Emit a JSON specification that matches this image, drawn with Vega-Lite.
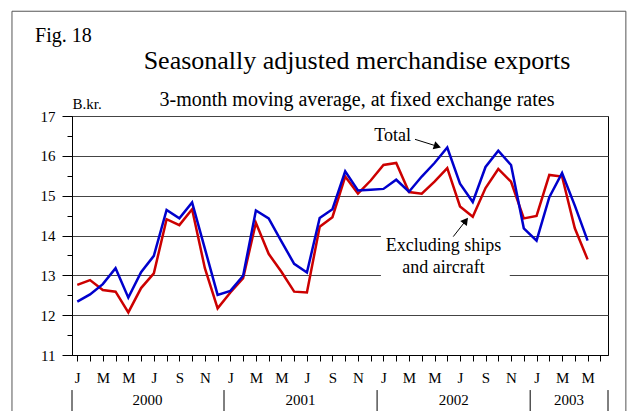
{
  "$schema": "https://vega.github.io/schema/vega-lite/v6.json",
  "width": 536,
  "height": 239,
  "autosize": {"type": "none"},
  "padding": {"left": 72, "top": 116, "right": 29, "bottom": 56},
  "background": "white",
  "config": {
    "font": "Liberation Serif",
    "view": {"stroke": "black", "strokeWidth": 1},
    "axis": {"labelColor": "black", "titleColor": "black", "domainColor": "black", "tickColor": "black", "labelFont": "Liberation Serif", "titleFont": "Liberation Serif"}
  },
  "title": {
    "text": "Seasonally adjusted merchandise exports",
    "subtitle": "3-month moving average, at fixed exchange rates",
    "fontSize": 26,
    "fontWeight": "normal",
    "color": "black",
    "subtitleFontSize": 20,
    "subtitleColor": "black",
    "subtitleFont": "Liberation Serif",
    "anchor": "middle",
    "dx": 17,
    "dy": 103,
    "offset": 4,
    "subtitlePadding": 16
  },
  "data": {
    "values": [
      {"month": "2000-01", "m": 0, "total": 12.34, "excl": 12.76},
      {"month": "2000-02", "m": 1, "total": 12.52, "excl": 12.88},
      {"month": "2000-03", "m": 2, "total": 12.78, "excl": 12.63},
      {"month": "2000-04", "m": 3, "total": 13.18, "excl": 12.59},
      {"month": "2000-05", "m": 4, "total": 12.44, "excl": 12.07},
      {"month": "2000-06", "m": 5, "total": 13.08, "excl": 12.68},
      {"month": "2000-07", "m": 6, "total": 13.49, "excl": 13.05},
      {"month": "2000-08", "m": 7, "total": 14.64, "excl": 14.41},
      {"month": "2000-09", "m": 8, "total": 14.43, "excl": 14.26},
      {"month": "2000-10", "m": 9, "total": 14.83, "excl": 14.66},
      {"month": "2000-11", "m": 10, "total": 13.67, "excl": 13.18},
      {"month": "2000-12", "m": 11, "total": 12.51, "excl": 12.17},
      {"month": "2001-01", "m": 12, "total": 12.61, "excl": 12.57},
      {"month": "2001-02", "m": 13, "total": 12.99, "excl": 12.93},
      {"month": "2001-03", "m": 14, "total": 14.63, "excl": 14.32},
      {"month": "2001-04", "m": 15, "total": 14.43, "excl": 13.54},
      {"month": "2001-05", "m": 16, "total": 13.85, "excl": 13.09},
      {"month": "2001-06", "m": 17, "total": 13.29, "excl": 12.59},
      {"month": "2001-07", "m": 18, "total": 13.07, "excl": 12.57},
      {"month": "2001-08", "m": 19, "total": 14.44, "excl": 14.22},
      {"month": "2001-09", "m": 20, "total": 14.66, "excl": 14.46},
      {"month": "2001-10", "m": 21, "total": 15.61, "excl": 15.48},
      {"month": "2001-11", "m": 22, "total": 15.13, "excl": 15.05},
      {"month": "2001-12", "m": 23, "total": 15.15, "excl": 15.38},
      {"month": "2002-01", "m": 24, "total": 15.17, "excl": 15.77},
      {"month": "2002-02", "m": 25, "total": 15.40, "excl": 15.82},
      {"month": "2002-03", "m": 26, "total": 15.10, "excl": 15.09},
      {"month": "2002-04", "m": 27, "total": 15.48, "excl": 15.05},
      {"month": "2002-05", "m": 28, "total": 15.82, "excl": 15.35},
      {"month": "2002-06", "m": 29, "total": 16.21, "excl": 15.69},
      {"month": "2002-07", "m": 30, "total": 15.30, "excl": 14.73},
      {"month": "2002-08", "m": 31, "total": 14.84, "excl": 14.47},
      {"month": "2002-09", "m": 32, "total": 15.72, "excl": 15.19},
      {"month": "2002-10", "m": 33, "total": 16.13, "excl": 15.67},
      {"month": "2002-11", "m": 34, "total": 15.77, "excl": 15.35},
      {"month": "2002-12", "m": 35, "total": 14.18, "excl": 14.43},
      {"month": "2003-01", "m": 36, "total": 13.87, "excl": 14.49},
      {"month": "2003-02", "m": 37, "total": 14.96, "excl": 15.52},
      {"month": "2003-03", "m": 38, "total": 15.57, "excl": 15.48},
      {"month": "2003-04", "m": 39, "total": 14.75, "excl": 14.18},
      {"month": "2003-05", "m": 40, "total": 13.87, "excl": 13.40}
    ]
  },
  "resolve": {"scale": {"x": "shared", "y": "shared"}, "axis": {"x": "independent", "y": "independent"}},
  "layer": [
    {
      "data": {"values": [{}]},
      "mark": {"type": "rect", "filled": false, "stroke": "#555555", "strokeWidth": 1, "clip": false},
      "encoding": {
        "x": {"datum": -5.12, "type": "quantitative", "axis": null, "scale": {"domain": [-0.415, 41.6], "nice": false, "zero": false}},
        "x2": {"datum": 43.0},
        "y": {"datum": 19.63, "type": "quantitative", "axis": null, "scale": {"domain": [11, 17], "nice": false, "zero": false}},
        "y2": {"datum": 9.0}
      }
    },
    {
      "data": {"values": [{}]},
      "mark": {"type": "rect", "fill": "white", "stroke": null},
      "encoding": {
        "x": {"datum": 23.8, "type": "quantitative", "axis": null},
        "x2": {"datum": 33.9},
        "y": {"datum": 14.19, "type": "quantitative", "axis": null},
        "y2": {"datum": 12.83}
      }
    },
    {
      "mark": {"type": "line", "color": "#cc0000", "strokeWidth": 2.5},
      "encoding": {
        "x": {
          "field": "m", "type": "quantitative",
          "axis": {
            "title": null, "grid": false, "orient": "bottom",
            "values": [0,1,2,3,4,5,6,7,8,9,10,11,12,13,14,15,16,17,18,19,20,21,22,23,24,25,26,27,28,29,30,31,32,33,34,35,36,37,38,39,40,41],
            "labelExpr": "datum.value % 2 == 0 && datum.value <= 40 ? ['J','F','M','A','M','J','J','A','S','O','N','D'][datum.value % 12] : ''",
            "tickSize": 6, "labelFontSize": 15, "labelBaseline": "alphabetic", "labelPadding": 21,
            "labelFlush": false, "labelOverlap": false, "labelBound": false
          }
        },
        "y": {
          "field": "excl", "type": "quantitative",
          "axis": {
            "orient": "left",
            "title": "B.kr.", "titleAngle": 0, "titleAlign": "left", "titleBaseline": "alphabetic",
            "titleX": 0, "titleY": -8, "titleFontSize": 15, "titleFontWeight": "normal",
            "values": [11, 12, 13, 14, 15, 16, 17],
            "labelFontSize": 15, "labelPadding": 7,
            "tickSize": 10,
            "grid": true,
            "gridColor": "#444444",
            "labelOverlap": false
          }
        }
      }
    },
    {
      "mark": {"type": "line", "color": "#0000cc", "strokeWidth": 2.5},
      "encoding": {
        "x": {"field": "m", "type": "quantitative", "axis": null},
        "y": {"field": "total", "type": "quantitative", "axis": null}
      }
    },
    {
      "data": {"values": [{}]},
      "mark": {"type": "text", "text": "Total", "fontSize": 18, "align": "right", "baseline": "alphabetic", "color": "black"},
      "encoding": {
        "x": {"datum": 26.15, "type": "quantitative", "axis": null},
        "y": {"datum": 16.364, "type": "quantitative", "axis": null}
      }
    },
    {
      "data": {"values": [{}]},
      "mark": {"type": "text", "text": ["Excluding ships", "and aircraft"], "lineHeight": 22, "fontSize": 18, "align": "center", "baseline": "alphabetic", "color": "black"},
      "encoding": {
        "x": {"datum": 28.71, "type": "quantitative", "axis": null},
        "y": {"datum": 13.613, "type": "quantitative", "axis": null}
      }
    },
    {
      "data": {"values": [{}]},
      "mark": {"type": "rule", "color": "black", "strokeWidth": 1},
      "encoding": {
        "x": {"datum": 26.47, "type": "quantitative", "axis": null},
        "x2": {"datum": 28.23},
        "y": {"datum": 16.415, "type": "quantitative", "axis": null},
        "y2": {"datum": 16.239}
      }
    },
    {
      "data": {"values": [{}]},
      "mark": {"type": "point", "shape": "triangle-right", "filled": true, "color": "black", "size": 70, "angle": 18, "opacity": 1},
      "encoding": {
        "x": {"datum": 28.23, "type": "quantitative", "axis": null},
        "y": {"datum": 16.239, "type": "quantitative", "axis": null}
      }
    },
    {
      "data": {"values": [{}]},
      "mark": {"type": "rule", "color": "black", "strokeWidth": 1},
      "encoding": {
        "x": {"datum": 29.47, "type": "quantitative", "axis": null},
        "x2": {"datum": 30.45},
        "y": {"datum": 13.972, "type": "quantitative", "axis": null},
        "y2": {"datum": 14.372}
      }
    },
    {
      "data": {"values": [{}]},
      "mark": {"type": "point", "shape": "triangle-right", "filled": true, "color": "black", "size": 70, "angle": -52, "opacity": 1},
      "encoding": {
        "x": {"datum": 30.45, "type": "quantitative", "axis": null},
        "y": {"datum": 14.372, "type": "quantitative", "axis": null}
      }
    },
    {
      "data": {"values": [{}]},
      "mark": {"type": "text", "text": "Fig. 18", "fontSize": 20, "align": "left", "baseline": "alphabetic", "color": "black"},
      "encoding": {
        "x": {"datum": -3.315, "type": "quantitative", "axis": null},
        "y": {"datum": 18.864, "type": "quantitative", "axis": null}
      }
    },
    {
      "data": {"values": [{}]},
      "mark": {"type": "rule", "color": "black", "strokeWidth": 1, "clip": false},
      "encoding": {"x": {"datum": -0.415, "type": "quantitative", "axis": null}, "y": {"datum": 10.12, "type": "quantitative", "axis": null}, "y2": {"datum": 9.45}}
    },
    {
      "data": {"values": [{}]},
      "mark": {"type": "rule", "color": "black", "strokeWidth": 1, "clip": false},
      "encoding": {"x": {"datum": 11.5, "type": "quantitative", "axis": null}, "y": {"datum": 10.12, "type": "quantitative", "axis": null}, "y2": {"datum": 9.45}}
    },
    {
      "data": {"values": [{}]},
      "mark": {"type": "rule", "color": "black", "strokeWidth": 1, "clip": false},
      "encoding": {"x": {"datum": 23.5, "type": "quantitative", "axis": null}, "y": {"datum": 10.12, "type": "quantitative", "axis": null}, "y2": {"datum": 9.45}}
    },
    {
      "data": {"values": [{}]},
      "mark": {"type": "rule", "color": "black", "strokeWidth": 1, "clip": false},
      "encoding": {"x": {"datum": 35.5, "type": "quantitative", "axis": null}, "y": {"datum": 10.12, "type": "quantitative", "axis": null}, "y2": {"datum": 9.45}}
    },
    {
      "data": {"values": [{}]},
      "mark": {"type": "rule", "color": "black", "strokeWidth": 1, "clip": false},
      "encoding": {"x": {"datum": 41.6, "type": "quantitative", "axis": null}, "y": {"datum": 10.12, "type": "quantitative", "axis": null}, "y2": {"datum": 9.45}}
    },
    {
      "data": {"values": [{}]},
      "mark": {"type": "text", "text": "2000", "fontSize": 15, "align": "center", "baseline": "alphabetic", "color": "black"},
      "encoding": {"x": {"datum": 5.5, "type": "quantitative", "axis": null}, "y": {"datum": 9.744, "type": "quantitative", "axis": null}}
    },
    {
      "data": {"values": [{}]},
      "mark": {"type": "text", "text": "2001", "fontSize": 15, "align": "center", "baseline": "alphabetic", "color": "black"},
      "encoding": {"x": {"datum": 17.5, "type": "quantitative", "axis": null}, "y": {"datum": 9.744, "type": "quantitative", "axis": null}}
    },
    {
      "data": {"values": [{}]},
      "mark": {"type": "text", "text": "2002", "fontSize": 15, "align": "center", "baseline": "alphabetic", "color": "black"},
      "encoding": {"x": {"datum": 29.5, "type": "quantitative", "axis": null}, "y": {"datum": 9.744, "type": "quantitative", "axis": null}}
    },
    {
      "data": {"values": [{}]},
      "mark": {"type": "text", "text": "2003", "fontSize": 15, "align": "center", "baseline": "alphabetic", "color": "black"},
      "encoding": {"x": {"datum": 38.55, "type": "quantitative", "axis": null}, "y": {"datum": 9.744, "type": "quantitative", "axis": null}}
    },
    {
      "mark": {"type": "point", "opacity": 0},
      "encoding": {
        "y": {
          "field": "total", "type": "quantitative",
          "axis": {"orient": "left", "title": null, "grid": false, "domain": false, "labels": false, "values": [11.5, 12.5, 13.5, 14.5, 15.5, 16.5], "tickSize": 5, "tickColor": "black"}
        }
      }
    }
  ]
}
